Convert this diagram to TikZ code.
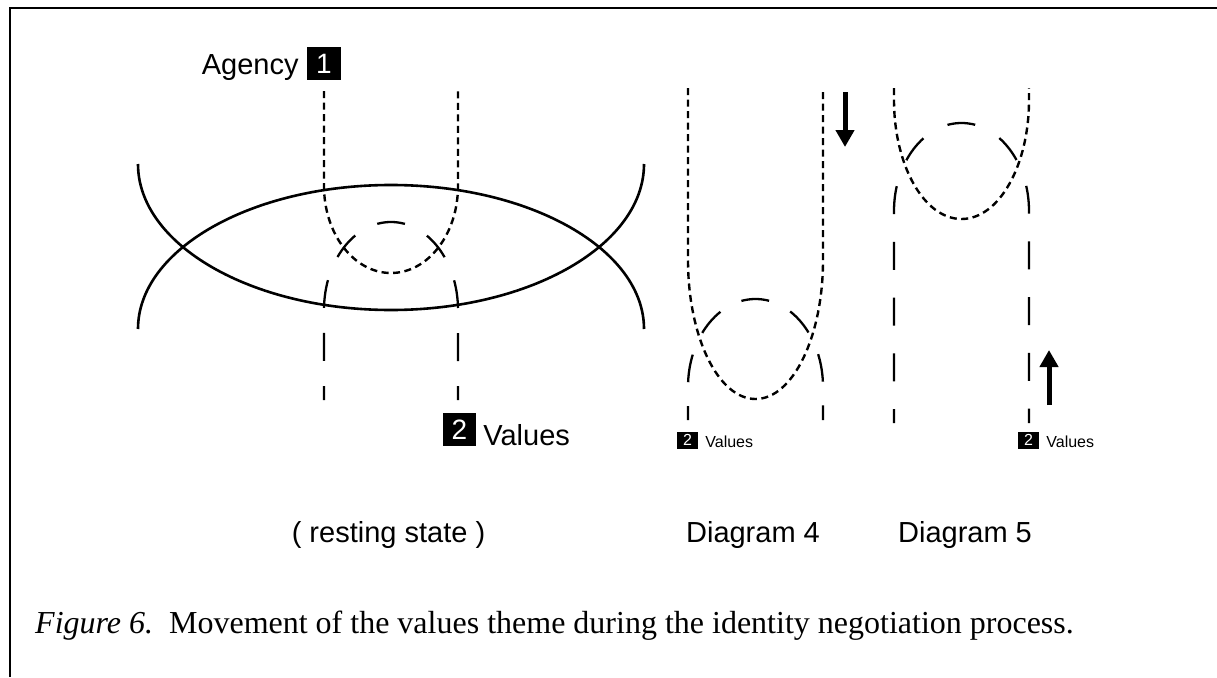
\documentclass[tikz,border=0pt]{standalone}
\usepackage{fontspec}
\setmainfont{Liberation Serif}
\setsansfont{Liberation Sans}
\usetikzlibrary{arrows.meta,positioning}

\begin{document}
\begin{tikzpicture}[x=1pt,y=-1pt]
    \tikzstyle{rim} = [line width=2.6pt]
    \tikzstyle{udash} = [line width=2.4pt, dash pattern=on 7pt off 4.5pt]
    \tikzstyle{arch} = [line width=2.3pt]
    \tikzstyle{numbox} = [fill=black, text=white, inner sep=0pt,
      font=\sffamily\fontsize{28}{28}\selectfont,
      minimum width=34pt, minimum height=33pt]
    \tikzstyle{smallbox} = [numbox, font=\sffamily\fontsize{16}{16}\selectfont,
      minimum width=21pt, minimum height=17pt]
    \tikzstyle{lbl} = [inner sep=0pt, font=\sffamily\fontsize{29}{29}\selectfont]
    \tikzstyle{smalllbl} = [lbl, font=\sffamily\fontsize{16}{16}\selectfont]
    \tikzstyle{bigarrow} = [line width=5pt, -{Triangle[width=18pt,length=17pt]}]

    \useasboundingbox (0,0) rectangle (1217,677);
    % frame
    \draw[line width=2pt] (9.5,677) -- (9.5,8.5) -- (1217,8.5);

    % resting state
    \draw[rim] (138,164) arc[start angle=180, end angle=0, x radius=253, y radius=146];
    \draw[rim] (138,329) arc[start angle=180, end angle=360, x radius=253, y radius=144];
    \draw[udash] (324,91) -- (324,186)
      arc[start angle=180, end angle=0, x radius=67, y radius=87] -- (458,91);
    \draw[arch, dash pattern=on 28pt off 25.1pt, dash phase=14pt] (324,400) -- (324,310)
      arc[start angle=180, end angle=360, x radius=67, y radius=88] -- (458,400);

    % diagram 4
    \draw[udash] (688,88) -- (688,260)
      arc[start angle=180, end angle=0, x radius=67.5, y radius=139] -- (823,88);
    \draw[arch, dash pattern=on 28pt off 23.8pt, dash phase=14pt] (688,420) -- (688,387)
      arc[start angle=180, end angle=360, x radius=67.5, y radius=88] -- (823,420);

    % diagram 5
    \draw[udash] (894,88) -- (894,100)
      arc[start angle=180, end angle=0, x radius=67.5, y radius=119] -- (1029,88);
    \draw[arch, dash pattern=on 28pt off 27.75pt, dash phase=14pt] (894,423) -- (894,211)
      arc[start angle=180, end angle=360, x radius=67.5, y radius=88] -- (1029,423);

    % arrows
    \coordinate (downtail) at (845,92);
    \coordinate (downtip) at (845,147);
    \draw[bigarrow] (downtail) -- (downtip);
    \coordinate (uptail) at (1049,405);
    \coordinate (uptip) at (1049,350);
    \draw[bigarrow] (uptail) -- (uptip);

    % labels
    \node[numbox] (agencynum) at (324,63.5) {1};
    \node[lbl, anchor=base east] (agency) at ([xshift=-8pt, yshift=6pt]agencynum.south west) {Agency};
    \node[numbox, minimum width=33pt] (valnum) at (459.5,429.5) {2};
    \node[lbl, anchor=base west] (values) at ([xshift=7pt, yshift=1pt]valnum.south east) {Values};
    \node[smallbox] (valnumfour) at (687.5,440) {2};
    \node[smalllbl, anchor=base west] (valuesfour) at ([xshift=7pt, yshift=1pt]valnumfour.south east) {Values};
    \node[smallbox] (valnumfive) at (1028.5,440) {2};
    \node[smalllbl, anchor=base west] (valuesfive) at ([xshift=7pt, yshift=1pt]valnumfive.south east) {Values};

    \node[lbl, anchor=base] (resting) at (388.5,542) {( resting state )};
    \node[lbl, anchor=base] (diagfour) at (753,542) {Diagram 4};
    \node[lbl, anchor=base] (diagfive) at (965,542) {Diagram 5};

    \node[anchor=base west, inner sep=0pt, font=\fontsize{32}{32}\selectfont] (caption) at (35,633)
      {\textit{Figure 6.}\ \ Movement of the values theme during the identity negotiation process.};
\end{tikzpicture}
\end{document}
